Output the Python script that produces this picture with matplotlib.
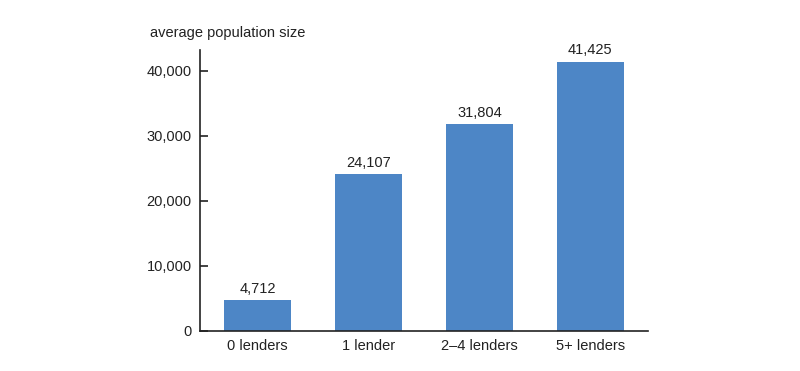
import matplotlib
matplotlib.use("Agg")
import matplotlib.pyplot as plt

categories = ["0 lenders", "1 lender", "2\u20134 lenders", "5+ lenders"]
values = [4712, 24107, 31804, 41425]
yticks = [0, 10000, 20000, 30000, 40000]

plt.rcParams["font.family"] = ["Liberation Sans", "DejaVu Sans"]

fig = plt.figure(figsize=(8, 3.71), dpi=100)
ax = fig.add_axes([0.25, 0.108, 0.56, 0.757])

x = range(len(categories))
bars = ax.bar(x, values, width=0.6, color="#4d86c6")
for xi, v in zip(x, values):
    ax.text(xi, v + 700, f"{v:,}", ha="center", va="bottom", fontsize=10.5, color="#222222")

ax.set_xlim(-0.52, 3.52)
ax.set_ylim(0, 43200)
ax.set_yticks(yticks)
ax.set_yticklabels([f"{t:,}" for t in yticks])
ax.set_xticks(list(x))
ax.set_xticklabels(categories)

ax.spines["top"].set_visible(False)
ax.spines["right"].set_visible(False)
ax.tick_params(axis="y", direction="in", length=6, width=1.2, labelsize=10.5, pad=6, colors="#222222")
ax.tick_params(axis="x", length=0, labelsize=10.5, pad=6, colors="#222222")
for s in ("left", "bottom"):
    ax.spines[s].set_linewidth(1.2)
    ax.spines[s].set_color("#222222")

fig.text(0.1875, 0.91, "average population size", fontsize=10.5, color="#222222", va="center")

fig.savefig("out.png", dpi=100)
